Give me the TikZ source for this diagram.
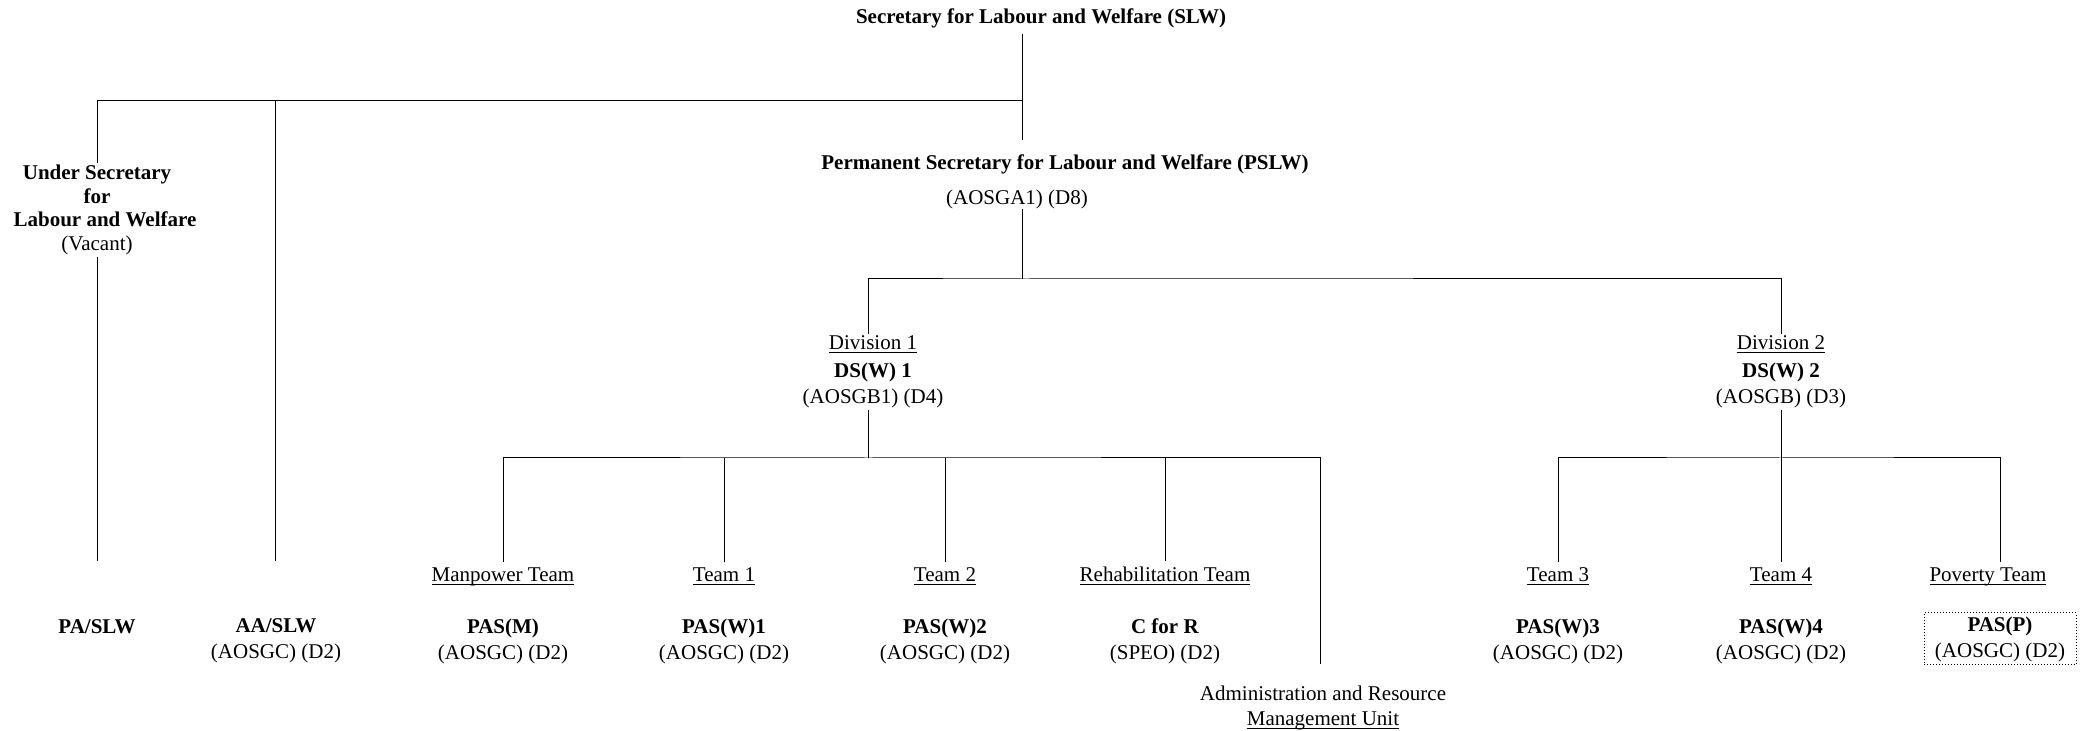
\documentclass[tikz,border=0pt]{standalone}
\usepackage{fontspec}
\setmainfont{Liberation Serif}
\usepackage{tikz}
\usetikzlibrary{positioning}

\newcommand{\uline}[1]{\underline{\smash{#1}}\vphantom{#1}}

\tikzset{
  org/.style={align=center, inner sep=0pt, outer sep=2.5pt, font=\fontsize{10.5}{13}\selectfont},
  head/.style={org, font=\fontsize{10.5}{13}\selectfont\bfseries},
  team/.style={org, anchor=base, outer sep=3pt},
  postbox/.style={org, draw, densely dotted, line width=0.5pt, minimum width=76pt, minimum height=26pt},
}

\begin{document}
\begin{tikzpicture}[x=0.5pt, y=-0.5pt, line width=0.5pt]
\useasboundingbox (0,0) rectangle (2083,731);

% secretary and permanent secretary
\node (slw) at (1041,24) [head, anchor=base] {Secretary for Labour and Welfare (SLW)};
\node (pslw) at (1065,170) [head, anchor=base, outer sep=7.5pt] {Permanent Secretary for Labour and Welfare (PSLW)};
\node (pslwg) at (1017,205) [org, anchor=base, outer sep=0pt] {(AOSGA1) (D8)};
\node (us) at (97,210) [org, outer sep=1pt, font=\fontsize{10.5}{11.8}\selectfont] {\textbf{Under Secretary}\\\textbf{for}\\\hspace*{8pt}\textbf{Labour and Welfare}\\(Vacant)};

% divisions
\node (div1) at (873,372) [org, outer sep=1pt] {\uline{Division 1}\\[1pt]\textbf{DS(W) 1}\\(AOSGB1) (D4)};
\node (div2) at (1781,372) [org, outer sep=1pt] {\uline{Division 2}\\[1pt]\textbf{DS(W) 2}\\(AOSGB) (D3)};

% teams
\node (man) at (503,582) [team] {\uline{Manpower Team}};
\node (t1) at (724,582) [team] {\uline{Team 1}};
\node (t2) at (945,582) [team] {\uline{Team 2}};
\node (rehab) at (1165,582) [team] {\uline{Rehabilitation Team}};
\node (t3) at (1558,582) [team] {\uline{Team 3}};
\node (t4) at (1781,582) [team] {\uline{Team 4}};
\node (pov) at (1988,582) [team] {\uline{Poverty Team}};

% posts
\node (pa) at (97,633) [head, anchor=base] {PA/SLW};
\node (aa) at (276,641) [org] {\textbf{AA/SLW}\\(AOSGC) (D2)};
\node (pasm) at (503,641) [org] {\textbf{PAS(M)}\\(AOSGC) (D2)};
\node (pasw1) at (724,641) [org] {\textbf{PAS(W)1}\\(AOSGC) (D2)};
\node (pasw2) at (945,641) [org] {\textbf{PAS(W)2}\\(AOSGC) (D2)};
\node (cfr) at (1165,641) [org] {\textbf{C for R}\\(SPEO) (D2)};
\node (pasw3) at (1558,641) [org] {\textbf{PAS(W)3}\\(AOSGC) (D2)};
\node (pasw4) at (1781,641) [org] {\textbf{PAS(W)4}\\(AOSGC) (D2)};
\node (pasp) at (2000,639) [postbox] {\textbf{PAS(P)}\\(AOSGC) (D2)};
\node (arm) at (1323,708) [org, font=\fontsize{10.5}{12.5}\selectfont] {Administration and Resource\\\uline{Management Unit}};

% junctions and free ends
\coordinate (bus0) at (1022,101);
\coordinate (bus1) at (1022,279);
\coordinate (bus2) at (868,458);
\coordinate (bus3) at (1781,458);
\coordinate (paend) at (97,561);
\coordinate (aaend) at (275,561);
\coordinate (armend) at (1320,664);

% connectors
\draw (slw.south -| bus0) -- (pslw.north -| bus0);
\draw (us.north) |- (bus0);
\draw (aaend) -- (aaend |- bus0);
\draw (us.south) -- (paend);
\draw (pslwg.south -| bus1) -- (bus1);
\draw (div1.north -| bus2) |- (bus1) -| (div2.north);
\draw (div1.south -| bus2) -- (bus2);
\draw (man.north) |- (bus2) -| (armend);
\draw (t1.north) -- (t1.north |- bus2);
\draw (t2.north) -- (t2.north |- bus2);
\draw (rehab.north) -- (rehab.north |- bus2);
\draw (div2.south) -- (t4.north);
\draw (t3.north) |- (bus3) -| (pasp.north |- pov.north);

\end{tikzpicture}
\end{document}
